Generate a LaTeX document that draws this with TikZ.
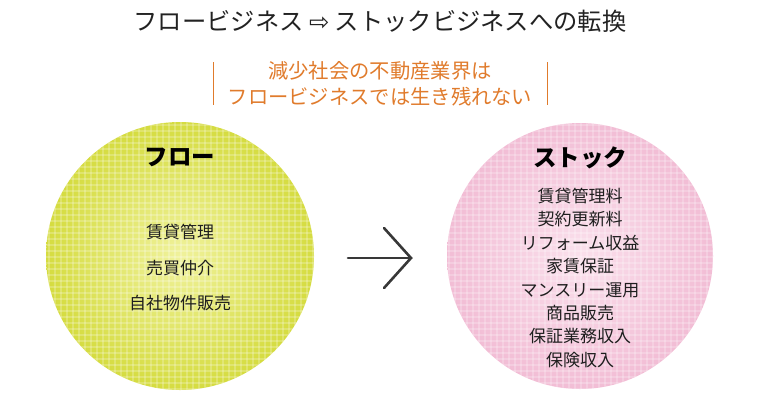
\documentclass[tikz,border=0pt]{standalone}
\usepackage{fontspec}
\setmainfont{Noto Sans CJK JP}
\newfontfamily\symfont{DejaVu Sans}
\definecolor{ttl}{HTML}{222222}
\definecolor{orng}{HTML}{E07B2C}
\definecolor{ygout}{HTML}{D5DC40}
\definecolor{ygin}{HTML}{F0F29C}
\definecolor{pkout}{HTML}{F2BDD5}
\definecolor{pkin}{HTML}{FAE0EC}
\definecolor{txt}{HTML}{1E1E1E}
\tikzset{
  item/.style={text=txt, font=\fontsize{17}{19}\selectfont, anchor=center, inner sep=0pt},
  head/.style={text=black, font=\fontsize{23.5}{26}\selectfont\bfseries, anchor=center, inner sep=0pt},
  gridline/.style={white, opacity=0.22, line width=1.3pt},
}
\begin{document}
\begin{tikzpicture}[x=1pt,y=-1pt]
\useasboundingbox (0,0) rectangle (760,400);
% title
\node[text=ttl, font=\fontsize{24.3}{27}\selectfont, inner sep=0pt] (title) at (380,21)
  {フロービジネス {\symfont ⇨} ストックビジネスへの転換};
% subtitle
\node[text=orng, font=\fontsize{20.3}{25.5}\selectfont, align=center, inner sep=0pt] (sub) at (380,84)
  {減少社会の不動産業界は\\フロービジネスでは生き残れない};
\coordinate (bl1) at (213,62); \coordinate (bl2) at (213,105);
\coordinate (br1) at (547,62); \coordinate (br2) at (547,105);
\draw[orng, line width=1pt] (bl1) -- (bl2);
\draw[orng, line width=1pt] (br1) -- (br2);
% left circle
\coordinate (lc) at (180,256);
\shade[inner color=ygin, outer color=ygout] (lc) circle (134);
\begin{scope}
  \clip (lc) circle (134);
  \foreach \k in {0,...,46} {
    \draw[gridline] (43+6*\k,120) -- (43+6*\k,392);
    \draw[gridline] (44,119+6*\k) -- (316,119+6*\k);
  }
\end{scope}
% right circle
\coordinate (rc) at (580,256);
\shade[inner color=pkin, outer color=pkout] (rc) circle (133);
\begin{scope}
  \clip (rc) circle (133);
  \foreach \k in {0,...,46} {
    \draw[gridline] (443+6*\k,120) -- (443+6*\k,392);
    \draw[gridline] (444,119+6*\k) -- (716,119+6*\k);
  }
\end{scope}
% left texts
\node[head] (flow) at (180,157) {フロー};
\node[item] (f1) at (180,232) {賃貸管理};
\node[item] (f2) at (180,268) {売買仲介};
\node[item] (f3) at (180,303) {自社物件販売};
% right texts
\node[head] (stock) at (580,158) {ストック};
\node[item] (s1) at (580,196) {賃貸管理料};
\node[item] (s2) at (580,219.5) {契約更新料};
\node[item] (s3) at (580,243) {リフォーム収益};
\node[item] (s4) at (580,266.5) {家賃保証};
\node[item] (s5) at (580,290) {マンスリー運用};
\node[item] (s6) at (580,313) {商品販売};
\node[item] (s7) at (580,336.5) {保証業務収入};
\node[item] (s8) at (580,360) {保険収入};
% arrow
\coordinate (a1) at (348,258);
\coordinate (a2) at (411,258);
\coordinate (a3) at (384,228);
\coordinate (a4) at (384,288);
\draw[ttl!90, line width=2.6pt, line cap=round] (a1) -- (a2);
\draw[ttl!90, line width=2.6pt, line cap=round, line join=miter] (a3) -- (a2) -- (a4);
\end{tikzpicture}
\end{document}
